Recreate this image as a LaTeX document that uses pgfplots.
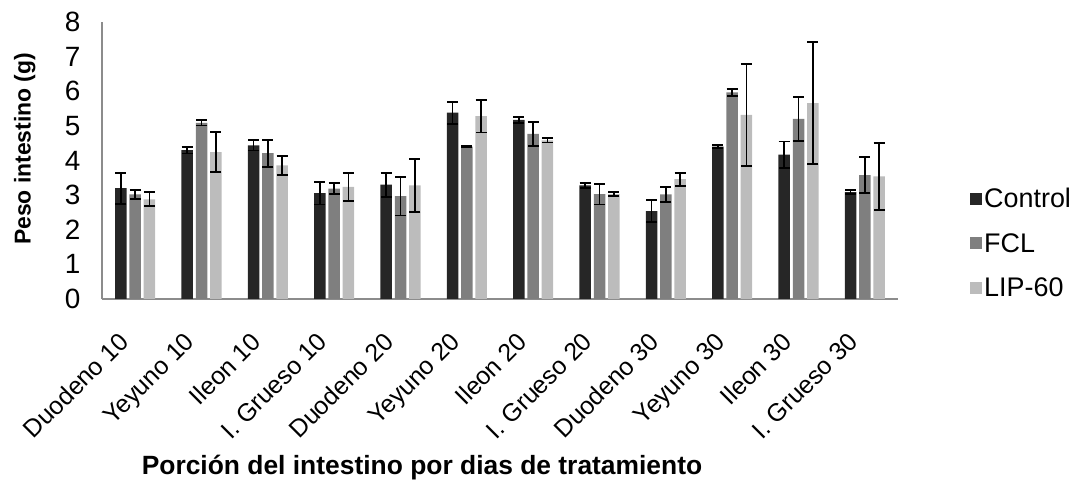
\documentclass[border=0pt]{standalone}
\usepackage{fontspec}
\setmainfont{Liberation Sans}
\usepackage{pgfplots}
\usepackage{pgfplotstable}
\pgfplotsset{compat=1.18}

\definecolor{cctrl}{HTML}{262626}
\definecolor{cfcl}{HTML}{7F7F7F}
\definecolor{clip}{HTML}{BCBCBC}
\definecolor{axgray}{HTML}{8C8C8C}

% x  y  err
\pgfplotstableread{
x y err
0 3.20 0.45
1 4.30 0.10
2 4.44 0.15
3 3.06 0.33
4 3.30 0.35
5 5.38 0.32
6 5.17 0.09
7 3.28 0.08
8 2.54 0.31
9 4.40 0.05
10 4.17 0.38
11 3.09 0.05
}\control
\pgfplotstableread{
x y err
0 3.02 0.13
1 5.09 0.08
2 4.21 0.39
3 3.19 0.16
4 2.97 0.56
5 4.40 0.02
6 4.77 0.34
7 3.03 0.30
8 3.02 0.21
9 5.97 0.10
10 5.20 0.64
11 3.58 0.53
}\fcl
\pgfplotstableread{
x y err
0 2.88 0.20
1 4.24 0.58
2 3.86 0.27
3 3.24 0.41
4 3.28 0.77
5 5.28 0.47
6 4.58 0.06
7 3.03 0.06
8 3.46 0.19
9 5.32 1.47
10 5.66 1.77
11 3.54 0.97
}\lip

\begin{document}
\begin{tikzpicture}
\useasboundingbox (0,0) rectangle (1075bp,482bp);
\begin{axis}[
    at={(102bp,183bp)}, anchor=south west,
    scale only axis,
    width=796bp, height=277bp,
    ybar=2.8bp,
    bar width=11.5bp,
    xmin=-0.5, xmax=11.5,
    ymin=0, ymax=8,
    ytick={0,1,...,8},
    xtick={0,1,...,11},
    xticklabels={Duodeno 10, Yeyuno 10, Ileon 10, I. Grueso 10, Duodeno 20, Yeyuno 20, Ileon 20, I. Grueso 20, Duodeno 30, Yeyuno 30, Ileon 30, I. Grueso 30},
    axis x line=bottom, axis y line=left,
    axis line style={-, axgray, line width=1.5bp},
    major tick length=0pt,
    /pgf/number format/assume math mode=true,
    yticklabel style={font=\fontsize{28}{32}\selectfont, xshift=-18bp},
    xticklabel style={font=\fontsize{25}{29}\selectfont, xshift=-18bp, yshift=-27bp, rotate=45, anchor=north east},
    xlabel={Porción del intestino por dias de tratamiento},
    ylabel={Peso intestino (g)},
    xlabel style={font=\bfseries\fontsize{26.5}{30}\selectfont, at={(rel axis cs:0.402,-0.607)}, anchor=center},
    ylabel style={font=\bfseries\fontsize{23}{27}\selectfont, at={(rel axis cs:-0.097,0.542)}, anchor=center, rotate=0},
    error bars/y dir=both,
    error bars/y explicit,
    error bars/error bar style={black, line width=1.8bp},
    error bars/error mark options={rotate=90, black, mark size=5.5bp, line width=1.8bp},
    legend style={at={(rel axis cs:1.0905,0.202)}, anchor=west, draw=none, fill=none,
        inner sep=0pt, row sep=20bp, font=\fontsize{27}{31}\selectfont,
        nodes={inner sep=2bp}},
    legend cell align=left,
    legend image code/.code={\fill[#1] (0bp,-6bp) rectangle (12bp,6bp);},
]
\addplot[fill=cctrl, draw=none] table[x=x, y=y, y error=err] {\control};
\addplot[fill=cfcl, draw=none] table[x=x, y=y, y error=err] {\fcl};
\addplot[fill=clip, draw=none] table[x=x, y=y, y error=err] {\lip};
\legend{Control, FCL, LIP-60}
\end{axis}
\end{tikzpicture}
\end{document}
